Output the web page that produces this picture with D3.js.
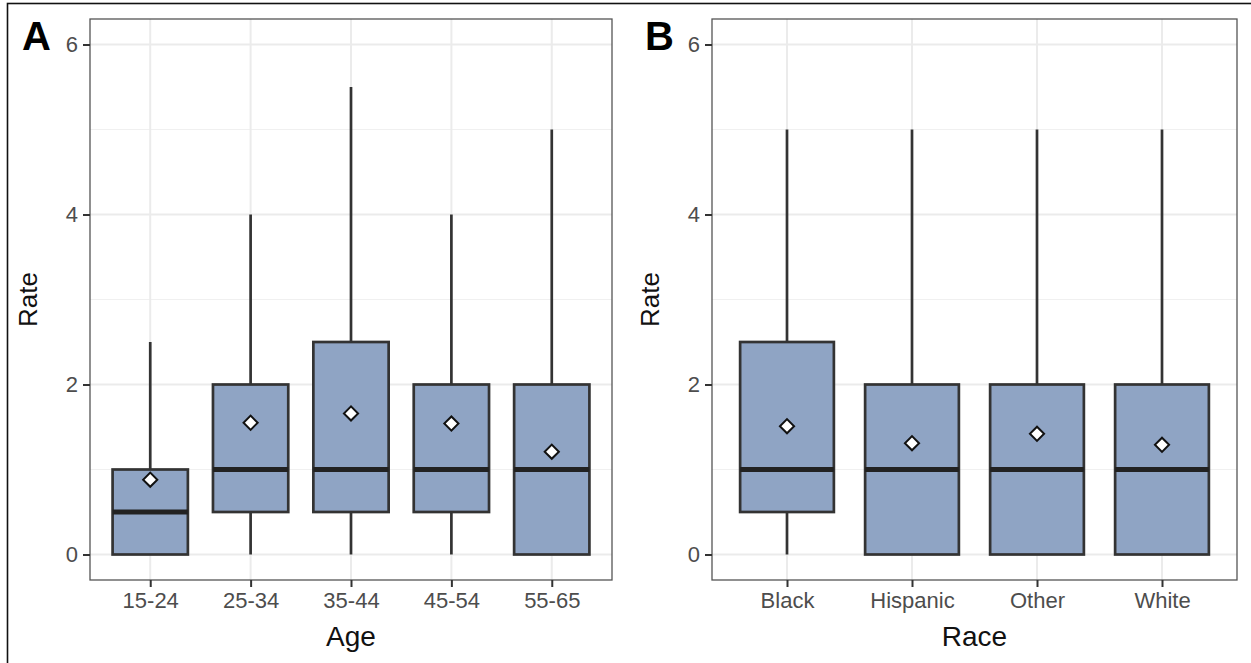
<!DOCTYPE html>
<html>
<head>
<meta charset="utf-8">
<script src="https://cdn.jsdelivr.net/npm/d3@7"></script>
<style>
  html, body { margin: 0; padding: 0; background: #fff; }
  svg { display: block; font-family: 'Liberation Sans', Arial, sans-serif; }
</style>
</head>
<body>
<div id="chart"></div>
<script>
// values
const ageGroups = ['15-24', '25-34', '35-44', '45-54', '55-65'];
const ageLow = [0, 0, 0, 0, 0];
const ageQ1 = [0, 0.5, 0.5, 0.5, 0];
const ageMedian = [0.5, 1, 1, 1, 1];
const ageQ3 = [1, 2, 2.5, 2, 2];
const ageHigh = [2.5, 4, 5.5, 4, 5];
const ageMean = [0.88, 1.55, 1.66, 1.54, 1.21];

const raceGroups = ['Black', 'Hispanic', 'Other', 'White'];
const raceLow = [0, 0, 0, 0];
const raceQ1 = [0.5, 0, 0, 0];
const raceMedian = [1, 1, 1, 1];
const raceQ3 = [2.5, 2, 2, 2];
const raceHigh = [5, 5, 5, 5];
const raceMean = [1.51, 1.31, 1.42, 1.29];

const yTicks = [0, 2, 4, 6];
const yMinor = [1, 3, 5];

const W = 1251, H = 663;
const svg = d3.select('#chart').append('svg').attr('width', W).attr('height', H);

// outer frame
svg.append('rect')
    .attr('x', 7.5).attr('y', 3.5)
    .attr('width', W + 10).attr('height', H + 10)
    .attr('fill', 'none').attr('stroke', '#111').attr('stroke-width', 1.6);

function rows(cats, low, q1, med, q3, high, mean) {
    return cats.map((c, i) => ({ cat: c, low: low[i], q1: q1[i], med: med[i], q3: q3[i], high: high[i], mean: mean[i] }));
}

function drawPanel(opts) {
    const { left, right, top, bottom, data, xTitle, tag, tagX } = opts;
    const g = svg.append('g');

    const x = d3.scalePoint().domain(data.map(d => d.cat))
        .range([left, right]).padding(0.6);
    const boxW = x.step() * 0.75;
    const y = d3.scaleLinear().domain([-0.3, 6.3]).range([bottom, top]);

    // grid
    g.selectAll('.minor').data(yMinor).enter().append('line')
        .attr('x1', left).attr('x2', right)
        .attr('y1', d => y(d)).attr('y2', d => y(d))
        .attr('stroke', '#f0f0f0').attr('stroke-width', 1);
    g.selectAll('.major').data(yTicks).enter().append('line')
        .attr('x1', left).attr('x2', right)
        .attr('y1', d => y(d)).attr('y2', d => y(d))
        .attr('stroke', '#ebebeb').attr('stroke-width', 2);
    g.selectAll('.vgrid').data(data).enter().append('line')
        .attr('x1', d => x(d.cat)).attr('x2', d => x(d.cat))
        .attr('y1', top).attr('y2', bottom)
        .attr('stroke', '#ebebeb').attr('stroke-width', 2);

    // boxes
    const boxes = g.selectAll('.box').data(data).enter().append('g');
    boxes.append('line')
        .attr('x1', d => x(d.cat)).attr('x2', d => x(d.cat))
        .attr('y1', d => y(d.q3)).attr('y2', d => y(d.high))
        .attr('stroke', '#333').attr('stroke-width', 2.7);
    boxes.append('line')
        .attr('x1', d => x(d.cat)).attr('x2', d => x(d.cat))
        .attr('y1', d => y(d.q1)).attr('y2', d => y(d.low))
        .attr('stroke', '#333').attr('stroke-width', 2.7);
    boxes.append('rect')
        .attr('x', d => x(d.cat) - boxW / 2)
        .attr('y', d => y(d.q3))
        .attr('width', boxW)
        .attr('height', d => y(d.q1) - y(d.q3))
        .attr('fill', '#8fa4c4').attr('stroke', '#333').attr('stroke-width', 2.7);
    boxes.append('line')
        .attr('x1', d => x(d.cat) - boxW / 2).attr('x2', d => x(d.cat) + boxW / 2)
        .attr('y1', d => y(d.med)).attr('y2', d => y(d.med))
        .attr('stroke', '#222').attr('stroke-width', 5);
    boxes.append('path')
        .attr('d', d3.symbol().type(d3.symbolSquare).size(100))
        .attr('transform', d => `translate(${x(d.cat)},${y(d.mean)}) rotate(45)`)
        .attr('fill', '#fff').attr('stroke', '#111').attr('stroke-width', 2);

    // panel border
    g.append('rect')
        .attr('x', left).attr('y', top)
        .attr('width', right - left).attr('height', bottom - top)
        .attr('fill', 'none').attr('stroke', '#555').attr('stroke-width', 1.3);

    // axes
    const yAxis = g.append('g')
        .attr('transform', `translate(${left},0)`)
        .call(d3.axisLeft(y).tickValues(yTicks).tickFormat(d3.format('d')).tickSize(7).tickPadding(5));
    const xAxis = g.append('g')
        .attr('transform', `translate(0,${bottom})`)
        .call(d3.axisBottom(x).tickSize(7).tickPadding(5));
    [yAxis, xAxis].forEach(a => {
        a.select('.domain').remove();
        a.selectAll('.tick line').attr('stroke', '#333').attr('stroke-width', 2);
        a.selectAll('.tick text').attr('fill', '#4d4d4d')
            .style('font-size', '22px').style('font-family', "'Liberation Sans', Arial, sans-serif");
    });

    g.append('text')
        .attr('x', (left + right) / 2).attr('y', 646)
        .attr('text-anchor', 'middle')
        .style('font-size', '28px').attr('fill', '#111')
        .text(xTitle);
    g.append('text')
        .attr('transform', `translate(${left - 53},${(top + bottom) / 2}) rotate(-90)`)
        .attr('text-anchor', 'middle')
        .style('font-size', '26px').attr('fill', '#111')
        .text('Rate');
    g.append('text')
        .attr('x', tagX).attr('y', 50)
        .style('font-size', '40px').style('font-weight', 'bold').attr('fill', '#000')
        .text(tag);
}

drawPanel({
    left: 90, right: 612, top: 19, bottom: 580,
    data: rows(ageGroups, ageLow, ageQ1, ageMedian, ageQ3, ageHigh, ageMean),
    xTitle: 'Age', tag: 'A', tagX: 22
});
drawPanel({
    left: 712, right: 1237, top: 19, bottom: 580,
    data: rows(raceGroups, raceLow, raceQ1, raceMedian, raceQ3, raceHigh, raceMean),
    xTitle: 'Race', tag: 'B', tagX: 645
});
</script>
</body>
</html>
